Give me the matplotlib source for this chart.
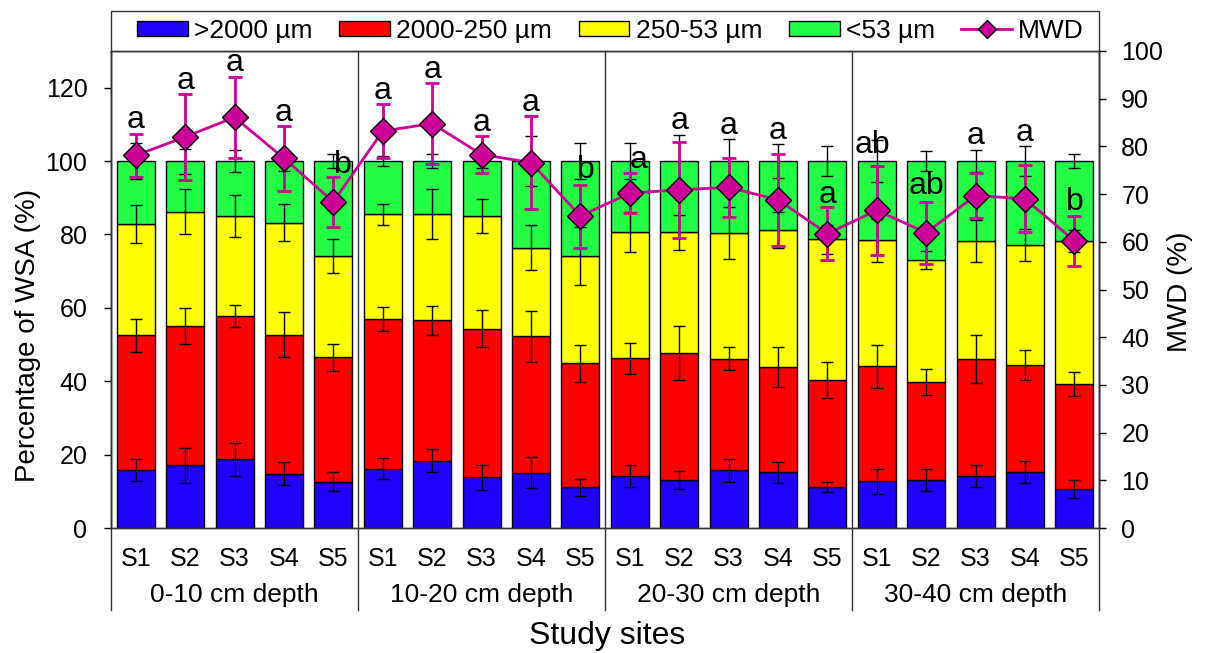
import matplotlib
matplotlib.use('Agg')
import matplotlib.pyplot as plt
import numpy as np
from matplotlib.patches import Patch, Rectangle
from matplotlib.lines import Line2D
from matplotlib.transforms import blended_transform_factory

plt.rcParams['font.family'] = ['Liberation Sans', 'DejaVu Sans']

# data: 4 depths x 5 sites
depths = ['0-10 cm depth', '10-20 cm depth', '20-30 cm depth', '30-40 cm depth']
sites = ['S1', 'S2', 'S3', 'S4', 'S5']

# water stable aggregate fractions (%)
agg_gt2000 = [15.8, 17.1, 18.7, 14.8, 12.6, 16.2, 18.3, 13.8, 15.1, 11.1,
              14.2, 13.0, 15.7, 15.2, 11.2, 12.7, 13.0, 14.2, 15.3, 10.7]
agg_2000_250 = [36.7, 37.9, 39.1, 37.9, 33.9, 40.7, 38.3, 40.5, 37.1, 33.8,
                32.0, 34.7, 30.4, 28.6, 29.1, 31.4, 26.8, 31.9, 29.1, 28.6]
agg_250_53 = [30.3, 31.2, 27.2, 30.5, 27.6, 28.6, 29.1, 30.7, 24.2, 29.2,
              34.4, 32.9, 34.3, 37.3, 38.4, 34.3, 33.2, 32.1, 32.7, 38.8]
agg_lt53 = [17.2, 13.8, 15.0, 16.8, 25.9, 14.5, 14.3, 15.0, 23.6, 25.9,
            19.4, 19.4, 19.6, 18.9, 21.3, 21.6, 27.0, 21.8, 22.9, 21.9]

err_gt2000 = [2.9, 4.8, 4.5, 3.1, 2.6, 2.8, 3.1, 3.5, 4.3, 2.3,
              2.9, 2.5, 3.2, 2.9, 1.3, 3.5, 3.0, 2.9, 3.0, 2.5]
err_2000_250 = [4.5, 4.9, 3.1, 6.1, 3.6, 3.3, 4.0, 5.0, 6.9, 5.1,
                4.1, 7.4, 3.1, 5.5, 4.9, 5.9, 3.5, 6.5, 4.0, 3.3]
err_250_53 = [5.1, 6.2, 5.8, 5.1, 4.7, 2.9, 6.8, 4.7, 6.1, 7.8,
              5.5, 4.8, 7.2, 4.9, 4.0, 5.9, 2.5, 5.7, 4.4, 3.0]
err_lt53 = [4.9, 3.4, 2.9, 2.8, 1.8, 1.4, 2.0, 2.0, 6.8, 4.9,
            5.0, 7.2, 6.0, 4.6, 4.2, 5.8, 2.7, 3.1, 4.0, 2.0]

# mean weight diameter (%)
mwd = [78.1, 82.0, 86.1, 77.5, 68.4, 83.2, 84.8, 78.3, 76.6, 65.4,
       70.2, 70.9, 71.4, 68.8, 61.7, 66.6, 61.9, 69.7, 69.0, 60.2]
mwd_err = [4.6, 9.0, 8.5, 6.8, 5.2, 5.6, 8.4, 3.9, 9.8, 6.6,
           4.2, 10.1, 6.1, 9.7, 5.5, 9.3, 6.5, 4.8, 7.0, 5.2]
letters = ['a', 'a', 'a', 'a', 'b', 'a', 'a', 'a', 'a', 'b',
           'a', 'a', 'a', 'a', 'a', 'ab', 'ab', 'a', 'a', 'b']

# letters that sit lower, inside the bars: index -> (x shift, y on MWD axis)
letter_override = {4: (0.19, 76.1), 9: (0.12, 75.1), 10: (0.17, 77.1),
                   14: (0.0, 69.8), 15: (-0.08, 80.3), 16: (0.0, 71.6),
                   19: (0.0, 68.4)}

c_blue = '#2000ff'
c_red = '#ff0000'
c_yellow = '#ffff00'
c_green = '#22ff44'
c_mag = '#cc0099'

x = np.arange(len(mwd))
b1 = np.array(agg_gt2000)
b2 = b1 + np.array(agg_2000_250)
b3 = b2 + np.array(agg_250_53)
b4 = b3 + np.array(agg_lt53)

fig = plt.figure(figsize=(12.07, 6.53), dpi=100)
ax = fig.add_axes([0.092, 0.1914, 0.8186, 0.7305])
ax2 = ax.twinx()

w = 0.77
ax.bar(x, agg_gt2000, w, color=c_blue, edgecolor='black', lw=1, zorder=2)
ax.bar(x, agg_2000_250, w, bottom=b1, color=c_red, edgecolor='black', lw=1, zorder=2)
ax.bar(x, agg_250_53, w, bottom=b2, color=c_yellow, edgecolor='black', lw=1, zorder=2)
ax.bar(x, agg_lt53, w, bottom=b3, color=c_green, edgecolor='black', lw=1, zorder=2)

for tops, errs in [(b1, err_gt2000), (b2, err_2000_250), (b3, err_250_53), (b4, err_lt53)]:
    ax.errorbar(x, tops, yerr=errs, fmt='none', ecolor='black', elinewidth=1,
                capsize=4, capthick=1, zorder=3)

ax.set_xlim(-0.5, 19.5)
ax.set_ylim(0, 130)
ax.set_yticks(np.arange(0, 121, 20))
ax.tick_params(axis='y', direction='out', length=5, width=1, labelsize=18, pad=12)
ax.set_xticks(x)
ax.set_xticklabels(sites * 4)
ax.tick_params(axis='x', length=0, labelsize=18, pad=14)

# group separators, running below the axis
for b in [-0.5, 4.5, 9.5, 14.5, 19.5]:
    ax.axvline(b, ymin=-0.172, ymax=1, color='#333333', lw=1, clip_on=False, zorder=1)

trans = blended_transform_factory(ax.transData, ax.transAxes)
for i, d in enumerate(depths):
    ax.text(i * 5 + 2, -0.1405, d, transform=trans, ha='center', va='center', fontsize=19)

# MWD on the right axis
ax2.set_ylim(0, 100)
ax2.set_yticks(np.arange(0, 101, 10))
ax2.tick_params(axis='y', direction='out', length=5, width=1, labelsize=18, pad=11)
ax2.errorbar(x, mwd, yerr=mwd_err, fmt='none', ecolor=c_mag, elinewidth=2,
             capsize=5, capthick=2, zorder=3)
ax2.plot(x, mwd, color=c_mag, lw=2, marker='D', ms=13, mfc=c_mag, mec='black',
         mew=1, zorder=4)

for i, lab in enumerate(letters):
    if i in letter_override:
        dx, yy = letter_override[i]
    else:
        dx = 0
        green_top = (b4[i] + err_lt53[i]) * 100 / 130
        yy = max(mwd[i] + mwd_err[i], green_top) + 2.8
    ax2.text(x[i] + dx, yy, lab, ha='center', va='center', fontsize=23, zorder=5)

for a in (ax, ax2):
    for s in a.spines.values():
        s.set_linewidth(1)
        s.set_color('#333333')

# legend strip above the plot
box_h = 40 / 477
ax2.add_patch(Rectangle((0, 1), 1, box_h, transform=ax2.transAxes, facecolor='white',
                        edgecolor='#333333', lw=1, clip_on=False))
handles = [Patch(facecolor=c_blue, edgecolor='black', lw=1),
           Patch(facecolor=c_red, edgecolor='black', lw=1),
           Patch(facecolor=c_yellow, edgecolor='black', lw=1),
           Patch(facecolor=c_green, edgecolor='black', lw=1),
           Line2D([], [], color=c_mag, lw=2, marker='D', ms=9, mfc=c_mag, mec='black')]
labels = ['>2000 µm', '2000-250 µm', '250-53 µm', '<53 µm', 'MWD']
leg = ax2.legend(handles, labels, loc='center', bbox_to_anchor=(0.0263, 1, 0.9585, box_h),
                 mode='expand', ncol=5, borderaxespad=0, borderpad=0, frameon=False,
                 fontsize=19, handlelength=1.93, handleheight=0.53, handletextpad=0.23)

fig.text(28 / 1207, 1 - 335 / 653, 'Percentage of WSA (%)', rotation=90,
         ha='center', va='center', fontsize=20)
fig.text(1180 / 1207, 1 - 292 / 653, 'MWD (%)', rotation=90,
         ha='center', va='center', fontsize=20)
fig.text(607 / 1207, 1 - 636 / 653, 'Study sites', ha='center', va='center', fontsize=23)

fig.savefig('out.png', dpi=100)
